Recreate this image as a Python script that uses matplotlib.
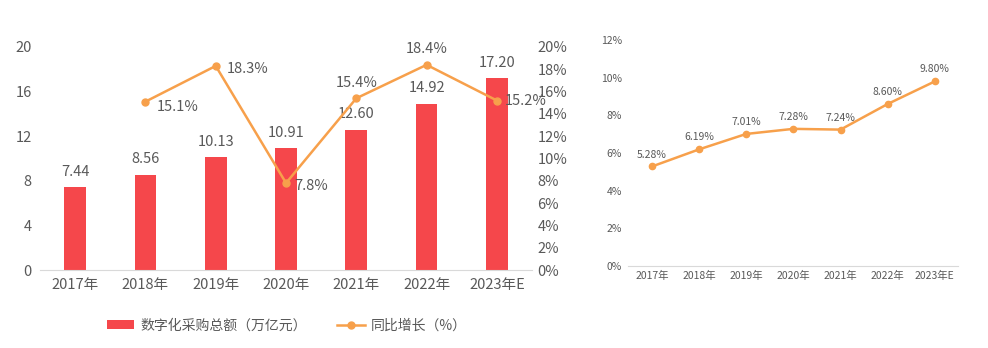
import matplotlib
matplotlib.use('Agg')
import matplotlib.pyplot as plt
from matplotlib.ticker import FuncFormatter

plt.rcParams['font.family'] = ['Noto Sans CJK SC', 'DejaVu Sans']

# ---- data ----
years = ['2017年', '2018年', '2019年', '2020年', '2021年', '2022年', '2023年E']
total = [7.44, 8.56, 10.13, 10.91, 12.60, 14.92, 17.20]          # 万亿元
growth = [None, 15.1, 18.3, 7.8, 15.4, 18.4, 15.2]                # %
rate = [5.28, 6.19, 7.01, 7.28, 7.24, 8.60, 9.80]                 # %

RED = '#F5474B'
ORANGE = '#F7A04B'
TXT = '#595959'
AXIS = '#D9D9D9'

fig = plt.figure(figsize=(9.88, 3.48), dpi=100)

# ---------------- left: bars + growth line ----------------
ax = fig.add_axes([0.0405, 0.224, 0.498, 0.641])
x = list(range(len(years)))
bars = ax.bar(x, total, width=0.31, color=RED, label='数字化采购总额（万亿元）', zorder=2)
ax.set_xlim(-0.5, len(years) - 0.5)
ax.set_ylim(0, 20)
ax.set_yticks(range(0, 21, 4))
ax.set_xticks(x)
ax.set_xticklabels(years)
for s in ['top', 'right', 'left']:
    ax.spines[s].set_visible(False)
ax.spines['bottom'].set_color(AXIS)
ax.tick_params(axis='both', length=0, colors=TXT, labelsize=10.5)
ax.tick_params(axis='x', pad=6)
ax.tick_params(axis='y', pad=6)
for xi, v in zip(x, total):
    ax.annotate(f'{v:.2f}', (xi, v), xytext=(0, 6), textcoords='offset points',
                ha='center', va='bottom', fontsize=10.5, color=TXT)

ax2 = ax.twinx()
gx = [xi for xi, g in zip(x, growth) if g is not None]
gy = [g for g in growth if g is not None]
line, = ax2.plot(gx, gy, color=ORANGE, lw=1.8, marker='o', ms=5, label='同比增长（%）', zorder=3)
ax2.set_ylim(0, 20)
ax2.set_yticks(range(0, 21, 2))
ax2.yaxis.set_major_formatter(FuncFormatter(lambda v, p: f'{v:.0f}%'))
for s in ['top', 'right', 'left', 'bottom']:
    ax2.spines[s].set_visible(False)
ax2.tick_params(axis='y', length=0, colors=TXT, labelsize=10.5, pad=4)
offsets = {1: (8, -4, 'left', 'center'), 2: (8, -2, 'left', 'center'),
           3: (6, -2, 'left', 'center'), 4: (0, 6, 'center', 'bottom'),
           5: (0, 6, 'center', 'bottom'), 6: (6, 0, 'left', 'center')}
for xi, g in zip(gx, gy):
    dx, dy, ha, va = offsets[xi]
    ax2.annotate(f'{g:.1f}%', (xi, g), xytext=(dx, dy), textcoords='offset points',
                 ha=ha, va=va, fontsize=10.5, color=TXT)

fig.legend(handles=[bars, line], loc='center', bbox_to_anchor=(0.29, 0.065),
           ncol=2, frameon=False, fontsize=10, labelcolor=TXT,
           handlelength=2.0, handleheight=0.6, handletextpad=0.4, columnspacing=2.2)

# ---------------- right: rate line ----------------
bx = fig.add_axes([0.636, 0.236, 0.334, 0.649])
bx.plot(x, rate, color=ORANGE, lw=1.8, marker='o', ms=4.5, zorder=3)
bx.set_xlim(-0.5, len(years) - 0.5)
bx.set_ylim(0, 12)
bx.set_yticks(range(0, 13, 2))
bx.yaxis.set_major_formatter(FuncFormatter(lambda v, p: f'{v:.0f}%'))
bx.set_xticks(x)
bx.set_xticklabels(years)
for s in ['top', 'right', 'left']:
    bx.spines[s].set_visible(False)
bx.spines['bottom'].set_color(AXIS)
bx.tick_params(axis='both', length=0, colors=TXT, labelsize=7.5)
bx.tick_params(axis='y', pad=4.5)
for xi, v in zip(x, rate):
    bx.annotate(f'{v:.2f}%', (xi, v), xytext=(0, 5), textcoords='offset points',
                ha='center', va='bottom', fontsize=7.5, color=TXT)

fig.savefig('out.png', dpi=100)
